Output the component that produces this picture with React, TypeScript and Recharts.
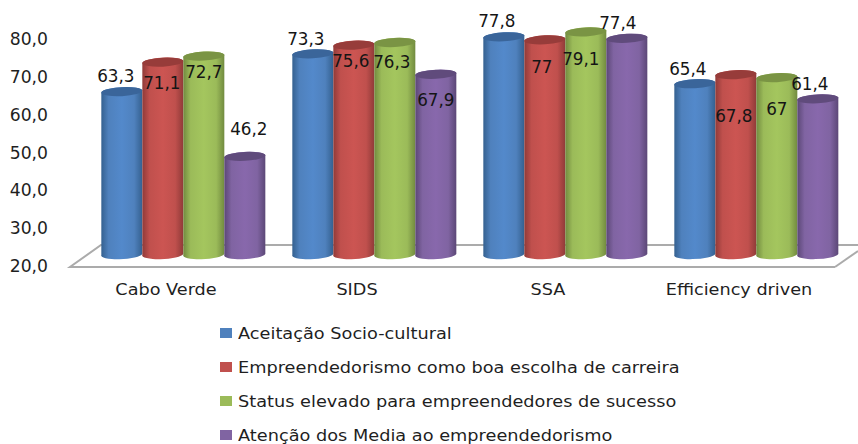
import React from "react";
import { BarChart, Bar, XAxis, YAxis, Legend, LabelList, Customized, usePlotArea } from "recharts";

const categories = ["Cabo Verde", "SIDS", "SSA", "Efficiency driven"];
const aceitacao = [63.3, 73.3, 77.8, 65.4];
const empreendedorismo = [71.1, 75.6, 77, 67.8];
const status = [72.7, 76.3, 79.1, 67];
const atencao = [46.2, 67.9, 77.4, 61.4];
const yTicks = [20, 30, 40, 50, 60, 70, 80];

const data = categories.map((name, i) => ({
  name,
  aceitacao: aceitacao[i],
  empreendedorismo: empreendedorismo[i],
  status: status[i],
  atencao: atencao[i],
}));

const FONT = "'DejaVu Sans', sans-serif";
const TEXT = "#1f1f1f";
const DEPTH_X = 17;
const DEPTH_Y = 10;

const seriesDefs = [
  { key: "aceitacao", name: "Aceitação Socio-cultural", fill: "#4F81BD", dark: "#34608F", mid: "#5389CB", top: "#3A659A", offs: [[-6, -15], [-7, -14], [-7, -15], [-7, -14]] },
  { key: "empreendedorismo", name: "Empreendedorismo como boa escolha de carreira", fill: "#C0504D", dark: "#8F3A38", mid: "#CC5552", top: "#973C3A", offs: [[-1, 21], [-3, 16], [-3, 28], [-2, 42]] },
  { key: "status", name: "Status elevado para empreendedores de sucesso", fill: "#9BBB59", dark: "#718A3F", mid: "#A4C65E", top: "#7A9444", offs: [[0, 16], [-3, 20], [-5, 28], [0, 32]] },
  { key: "atencao", name: "Atenção dos Media ao empreendedorismo", fill: "#8064A2", dark: "#5B4776", mid: "#8868AC", top: "#604B7C", offs: [[4, -27], [0, 26], [-9, -15], [-8, -14]] },
];

function Floor() {
  const plot = usePlotArea();
  if (!plot) return null;
  const left = plot.x;
  const right = plot.x + plot.width + 1;
  const front = plot.y + plot.height + 2;
  const back = front - 22;
  return (
    <g>
      <polygon points={`${left},${front} ${left + 31},${back} 858,${back} 858,${front - 16} ${right},${front}`} fill="#ffffff" stroke="none" />
      <polyline points={`${right},${front} ${left},${front} ${left + 31},${back} 858,${back}`} fill="none" stroke="#ababab" strokeWidth={2} />
      <line x1={right} y1={front} x2={858} y2={front - 16} stroke="#ababab" strokeWidth={2} />
    </g>
  );
}

function Cylinder(props: any) {
  const { x, y, width, height, gradient, top } = props;
  if (width == null || height == null) return null;
  const l = x + DEPTH_X;
  const r = l + width;
  const cx = l + width / 2;
  const ty = y - DEPTH_Y;
  const by = y + height - DEPTH_Y;
  const ry = 4.5;
  const rx = width / 2;
  const d = `M${l},${ty + 1} L${l},${by} A${rx},${ry} -3 0 0 ${r},${by - 1} L${r},${ty} A${rx},${ry} -3 0 0 ${l},${ty + 1} Z`;
  return (
    <g>
      <path d={d} fill={`url(#${gradient})`} />
      <ellipse cx={cx} cy={ty + 0.5} rx={rx} ry={ry} fill={top} transform={`rotate(-3 ${cx} ${ty + 0.5})`} />
    </g>
  );
}

function makeLabel(offs: number[][]) {
  return function BarLabel(props: any) {
    const { x, y, width, value, index } = props;
    const [dx, dy] = offs[index];
    return (
      <text x={x + DEPTH_X + width / 2 + dx} y={y - DEPTH_Y + dy} textAnchor="middle" dominantBaseline="central" fontFamily={FONT} fontSize={16.8} fill="#151515">
        {String(value).replace(".", ",")}
      </text>
    );
  };
}

function CategoryTick(props: any) {
  const { x, y, payload } = props;
  return (
    <text transform={`translate(${x + 0.5},${y + 9}) scale(1.14,1)`} textAnchor="middle" dominantBaseline="central" fontFamily={FONT} fontSize={15.5} fill={TEXT}>
      {payload.value}
    </text>
  );
}

function ValueTick(props: any) {
  const { x, y, payload } = props;
  return (
    <text x={x} y={y + 1} textAnchor="end" dominantBaseline="central" fontFamily={FONT} fontSize={17.2} fill={TEXT}>
      {payload.value.toFixed(1).replace(".", ",")}
    </text>
  );
}

function LegendList() {
  return (
    <div style={{ fontFamily: FONT, fontSize: 15.8, color: TEXT }}>
      {seriesDefs.map((s) => (
        <div key={s.key} style={{ display: "flex", alignItems: "center", height: 34, whiteSpace: "nowrap" }}>
          <span style={{ display: "inline-block", width: 12, height: 10, background: s.fill, marginRight: 6 }} />
          <span style={{ display: "inline-block", transform: "scaleX(1.122)", transformOrigin: "left center" }}>{s.name}</span>
        </div>
      ))}
    </div>
  );
}

export default function App() {
  return (
    <div style={{ position: "absolute", left: 0, top: 0, width: 858, height: 444, overflow: "hidden", background: "#fff" }}>
      <BarChart
        width={858}
        height={444}
        data={data}
        margin={{ top: 38, right: 24, bottom: 0, left: 0 }}
        barGap={0}
        barCategoryGap="7.5%"
      >
        <defs>
          {seriesDefs.map((s) => (
            <linearGradient key={s.key} id={`grad-${s.key}`} x1="0" y1="0" x2="1" y2="0">
              <stop offset="0%" stopColor={s.dark} />
              <stop offset="18%" stopColor={s.fill} />
              <stop offset="50%" stopColor={s.mid} />
              <stop offset="80%" stopColor={s.fill} />
              <stop offset="100%" stopColor={s.dark} />
            </linearGradient>
          ))}
        </defs>
        <Customized component={<Floor />} />
        <XAxis
          dataKey="name"
          height={179}
          axisLine={false}
          tickLine={false}
          tickSize={0}
          tickMargin={16}
          interval={0}
          tick={<CategoryTick />}
        />
        <YAxis
          domain={[20, 80]}
          ticks={yTicks}
          width={70}
          axisLine={false}
          tickLine={false}
          tickSize={0}
          tickMargin={22}
          tick={<ValueTick />}
        />
        <Legend
          layout="vertical"
          align="center"
          verticalAlign="middle"
          content={<LegendList />}
          wrapperStyle={{ left: 220, top: 316, width: 500, margin: 0 }}
        />
        {seriesDefs.map((s) => (
          <Bar
            key={s.key}
            dataKey={s.key}
            name={s.name}
            fill={s.fill}
            isAnimationActive={false}
            shape={<Cylinder gradient={`grad-${s.key}`} top={s.top} />}
          >
            <LabelList dataKey={s.key} content={makeLabel(s.offs)} />
          </Bar>
        ))}
      </BarChart>
    </div>
  );
}
